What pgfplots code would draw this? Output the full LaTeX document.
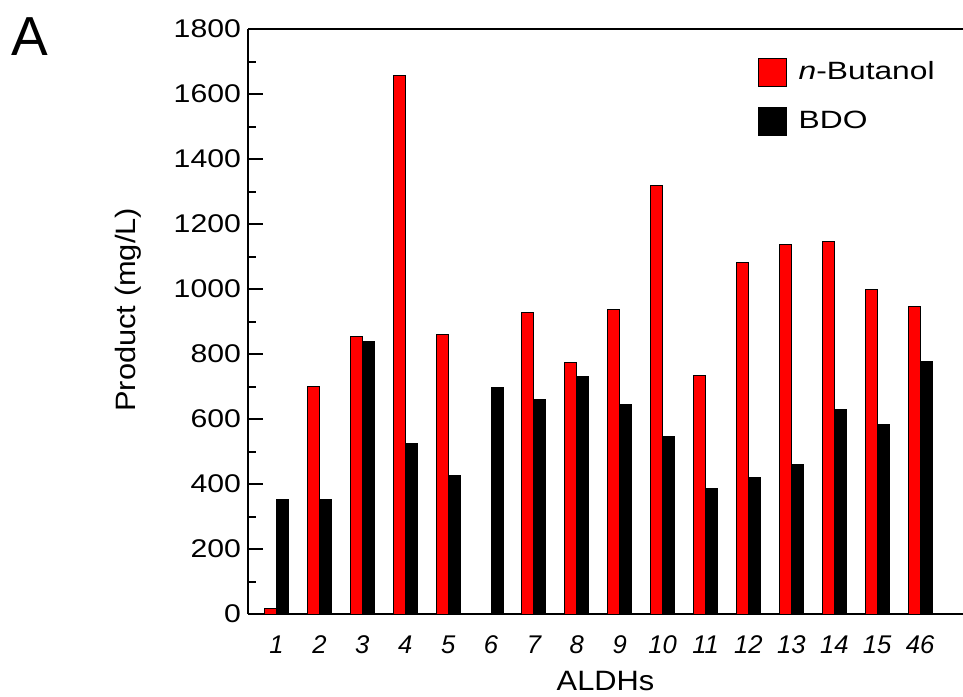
\documentclass[border=0pt]{standalone}
\usepackage{graphicx}
\usepackage{pgfplots}
\pgfplotsset{compat=1.18}
\usepackage{pgfplotstable}
\usepackage{fontspec}
\setmainfont{Liberation Sans}

\pgfplotstableread{
x red black
1 18 352
2 700 352
3 855 840
4 1657 525
5 860 425
6 nan 697
7 928 661
8 775 731
9 938 646
10 1320 546
11 733 385
12 1082 420
13 1138 459
14 1145 630
15 998 584
16 945 777
}\datatab

\begin{document}
\begin{tikzpicture}
\path[use as bounding box] (0pt,0pt) rectangle (481.5pt,-348pt);
\node[font=\fontsize{27.5}{30}\selectfont, anchor=center, inner sep=0pt] at (14.8pt,-18.5pt) {A};
\begin{axis}[
  at={(124pt,-307pt)}, anchor=south west,
  scale only axis, width=357.5pt, height=292.5pt,
  xmin=0.335, xmax=17.0, ymin=0, ymax=1800,
  axis x line=box, axis y line=left,
  axis line style={line width=1pt,-},
  ytick={0,200,...,1800}, minor y tick num=1,
  tick align=inside,
  major tick length=7.5pt, minor tick length=4pt,
  ytick style={line width=1pt,black},
  minor y tick style={line width=1pt,black},
  xtick={1,...,16},
  xticklabels={1,2,3,4,5,6,7,8,9,10,11,12,13,14,15,46},
  xtick style={draw=none},
  xticklabel style={font=\fontsize{12.8}{14}\selectfont\itshape},
  yticklabel style={font=\fontsize{12.8}{14}\selectfont},
  /pgf/number format/assume math mode=true,
  /pgf/number format/1000 sep={},
  yticklabel={\scalebox{1.18}[1]{\pgfmathprintnumber{\tick}}},
  xlabel={\scalebox{1.1}[1]{ALDHs}}, ylabel={\scalebox{1.1}[1]{Product (mg/L)}},
  every axis x label/.style={at={(axis description cs:0.5,-0.115)}, anchor=center, inner sep=1pt, font=\fontsize{14}{16}\selectfont},
  every axis y label/.style={at={(axis description cs:-0.168,0.52)}, anchor=center, rotate=90, font=\fontsize{14}{16}\selectfont},
  ybar, bar width=0.28,
  legend image code/.code={\draw[#1, draw=black, line width=0.5pt] (0pt,-7pt) rectangle (14pt,7pt); \path[draw=none,fill=none] (0pt,0pt) -- (18pt,0pt);},
  legend style={draw=none, fill=none, at={(0.713,0.952)}, anchor=north west,
    inner sep=0pt, row sep=10pt, font=\fontsize{12.5}{14}\selectfont},
  legend cell align=left,
  unbounded coords=discard,
]
\addplot[fill=red, draw=black, line width=0.5pt, bar shift=-0.14] table[x=x,y=red] {\datatab};
\addlegendentry{\scalebox{1.27}[1]{\textit{n}-Butanol}}
\addplot[fill=black, draw=black, line width=0.5pt, bar shift=0.14] table[x=x,y=black] {\datatab};
\addlegendentry{\scalebox{1.27}[1]{BDO}}
\end{axis}
\end{tikzpicture}
\end{document}
